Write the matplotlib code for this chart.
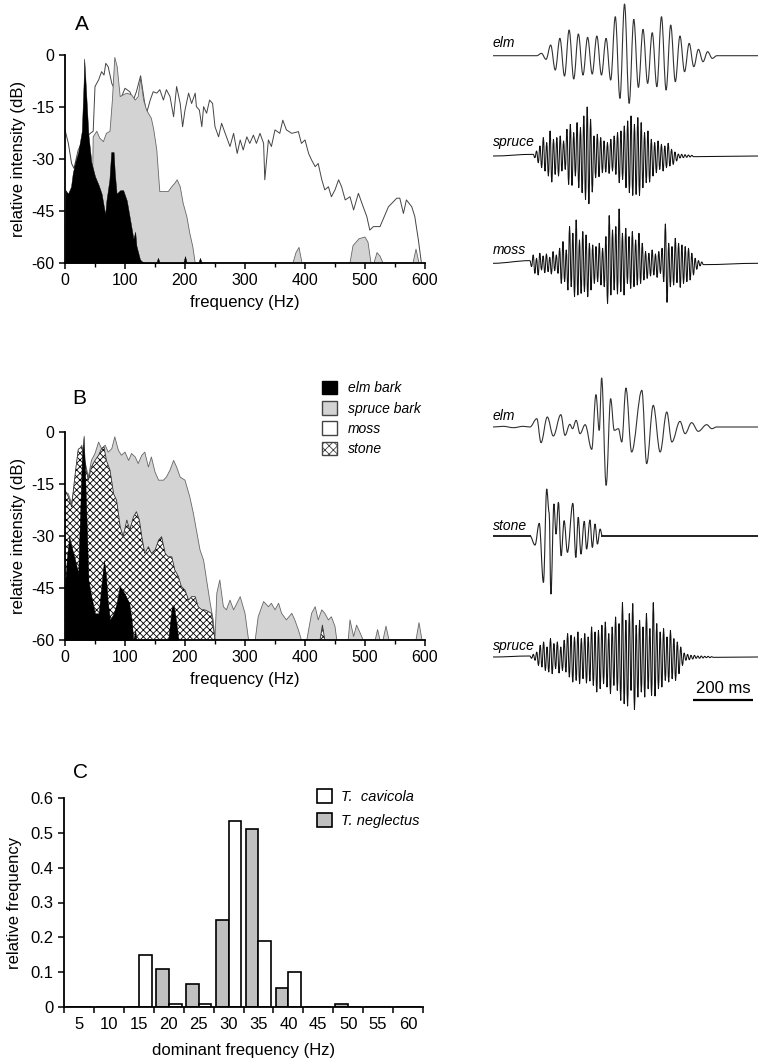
import numpy as np
import matplotlib.pyplot as plt
from matplotlib.patches import Patch, PathPatch
from matplotlib.path import Path

plt.rcParams['font.family'] = ['Liberation Sans', 'DejaVu Sans']
plt.rcParams['axes.unicode_minus'] = False
plt.rcParams['hatch.linewidth'] = 0.6

# ---------------- panel A spectra (Hz, dB) ----------------
A_elm_hz = [0, 1, 5, 10, 13, 17, 22, 28, 31, 32, 34, 39, 44, 50, 56, 61, 67, 69, 74, 77,
            81, 83, 86, 92, 97, 103, 108, 114, 117, 119, 125, 131, 152, 155, 158, 197, 200,
            203, 222, 225, 228]
A_elm_db = [-60, -39, -40, -38, -34, -31, -28, -22, -8, -1, -7, -23, -31, -35, -37.5, -40,
            -46, -42, -36, -28, -28, -34, -40, -39, -39, -42, -47, -53, -51, -55, -59, -60,
            -60, -58.5, -60, -60, -58, -60, -60, -58.5, -60]

A_spruce_hz = [44, 47, 53, 58, 64, 69, 75, 79, 83, 87, 92, 97, 103, 111, 117, 122, 126, 131,
               136, 144, 148, 153, 158, 167, 172, 178, 183, 187, 192, 197, 203, 208, 213, 217,
               380, 385, 390, 395, 475, 480, 490, 500, 505, 510, 515, 520, 525, 530, 580, 585, 590]
A_spruce_db = [-60, -23.6, -22, -24, -25, -22.6, -22, -13, -0.7, -3.4, -12, -11.5, -11, -11.5,
               -13, -12, -6.7, -13, -15.9, -18.3, -21.6, -27.4, -39.4, -39.4, -39.4, -38, -37,
               -36, -38, -42.8, -46.6, -51.4, -55.3, -60, -60, -57, -55.5, -60, -60, -55, -53,
               -52.5, -54, -60, -60, -57, -58, -60, -60, -56, -60]

A_moss_hz = [0, 5.6, 11, 15, 22, 31, 42, 47, 50, 56, 61, 65, 68, 72, 78, 83, 92, 100, 108, 114,
             119, 126, 132, 136, 142, 147, 153, 158, 164, 169, 175, 181, 186, 192, 196, 200,
             206, 211, 217, 219, 224, 228, 231, 236, 241, 246, 250, 256, 261, 267, 275, 281,
             287, 292, 297, 303, 308, 314, 319, 325, 331, 333, 339, 344, 350, 358, 363, 369,
             378, 389, 394, 400, 406, 411, 417, 422, 428, 433, 439, 444, 450, 456, 461, 467,
             475, 481, 489, 497, 503, 508, 514, 525, 539, 553, 558, 564, 569, 578, 583, 589, 594]
A_moss_db = [-21.6, -25.5, -31.3, -32.7, -27.4, -24.5, -22.6, -22, -9.1, -7.2, -4.8, -5.8, -2.4,
             -3.4, -8.2, -10, -13, -9.6, -10.6, -13, -10.6, -6, -13, -16.8, -13, -10.6, -11, -10,
             -13, -10, -12, -17.8, -9.1, -14, -20.7, -15.9, -11, -14, -11, -14.9, -15.9, -20.7,
             -14.9, -16.8, -13, -14, -20.7, -23.6, -19.7, -22.6, -26.4, -22.6, -28.4, -24.5,
             -27.4, -23.6, -25.5, -23.1, -25.5, -22.6, -25.5, -36, -24.5, -26.4, -21.6, -22.6,
             -18.8, -21.6, -22.6, -22.1, -25.5, -24.5, -28.4, -30.3, -32.2, -31.3, -36, -38.9,
             -38, -40.9, -38.9, -36, -38, -41.8, -40.9, -44.7, -39.9, -43.8, -46.6, -50.5, -49.5,
             -49.5, -43.8, -41.3, -41.3, -45.7, -41.8, -43.8, -46.6, -53.4, -60]

# ---------------- panel B spectra ----------------
B_elm_hz = [0, 0.5, 2.8, 7, 11, 17, 22, 28, 31, 33, 39, 44, 50, 56, 61, 65, 68, 71, 75, 81,
            86, 91, 96, 102, 107, 111, 114, 117, 119, 172, 178, 181, 185, 189]
B_elm_db = [-60, -43, -37, -30.2, -33.1, -37, -40.8, -8.2, -1, -9.1, -42.7, -47.5, -52.3,
            -52.3, -43.7, -37, -40.8, -48.5, -54.2, -52.3, -49.4, -44.6, -45.6, -47.5, -49.4,
            -54.2, -60, -57.1, -60, -60, -50.4, -49.9, -54.2, -60]

B_spruce_hz = [0, 5.6, 11, 17, 22, 28, 33, 39, 44, 50, 56, 61, 67, 72, 78, 83, 89, 94, 100,
               106, 111, 117, 122, 128, 133, 139, 144, 150, 156, 164, 169, 175, 181, 186, 192,
               200, 208, 214, 219, 225, 231, 236, 242, 247, 250, 253, 258, 264, 269, 275, 281,
               292, 300, 306, 317, 322, 331, 339, 344, 350, 356, 361, 369, 378, 383, 389, 394,
               403, 411, 417, 422, 428, 433, 439, 444, 450, 453, 472, 475, 481, 486, 492, 497,
               517, 521, 525, 530, 535, 540, 585, 590, 595]
B_spruce_db = [-17.3, -17.8, -20.6, -13.9, -5.8, -3.8, -8.2, -13, -8.2, -6.2, -2.9, -4.8, -3.8,
               -5.8, -4.8, -1.4, -5.3, -6.7, -5.8, -8.2, -6.2, -7.2, -9.1, -6.7, -5.8, -10.1,
               -7.2, -11.5, -13.9, -13.9, -13, -11, -8.2, -10.1, -13, -13.9, -18.7, -23.5,
               -28.3, -34, -37, -42.7, -49.4, -54.2, -60, -46.5, -42.7, -50.4, -51.3, -48.5,
               -51.3, -47.5, -52.3, -60, -60, -53.3, -48.9, -50.4, -49.4, -51.3, -49.4, -52.3,
               -54.2, -52.3, -54.2, -57.1, -60, -60, -52.3, -50.4, -54.2, -51.3, -52.3, -54.2,
               -53.3, -56.1, -60, -60, -54.2, -59, -55.7, -58, -60, -60, -57, -60, -60, -56,
               -60, -60, -55, -60]

B_stone_hz = [0, 5.6, 11, 17, 22, 28, 33, 39, 44, 50, 56, 61, 65, 69, 75, 81, 86, 92, 97, 103,
              108, 114, 119, 124, 128, 133, 139, 144, 150, 156, 161, 167, 172, 178, 183, 189,
              194, 200, 206, 211, 217, 222, 228, 233, 239, 244, 250, 425, 429, 433]
B_stone_db = [-16.8, -18.7, -21.6, -12, -5, -4.3, -9.1, -13.9, -10.1, -8.2, -6.7, -4.8, -4.3,
              -8.2, -11, -17.8, -19.7, -27.4, -30.2, -25.4, -28.3, -24.5, -23, -25.4, -30.2,
              -35, -33.1, -35, -34.1, -31.2, -30.2, -35, -36, -36, -39.8, -41.7, -44.6, -45.6,
              -48.5, -47.5, -47.5, -50.4, -51.3, -51.3, -51.8, -52.3, -60, -60, -55.7, -60]

# ---------------- panel C histogram ----------------
bins_hz = [5, 10, 15, 20, 25, 30, 35, 40, 45, 50, 55, 60]
cavicola = [0, 0, 0.15, 0.01, 0.01, 0.535, 0.19, 0.10, 0, 0, 0, 0]
neglectus = [0, 0, 0, 0.11, 0.065, 0.25, 0.51, 0.055, 0, 0.008, 0, 0]

# ---------------- oscillograms (extrema amplitudes, arbitrary units) ----------------
A_elm_wave = [0, 7, -11, 32, -43, 52, -61, 77, -70, 65, -58, 55, -55, 59, -58, 52, -73, 117,
              -128, 155, -143, 109, -95, 79, -83, 69, -93, 117, -103, 92, -78, 59, -48, 37,
              -33, 19, -18, 12, -8, 0]
A_spruce_wave = [5, -5, 15, -20, 30, -35, 55, -45, 40, -60, 75, -78, 50, -55, 55, -60, 60, -45,
                 45, -40, 80, -85, 95, -88, 70, -60, 100, -95, 85, -110, 120, -130, 147, -143,
                 110, -108, 60, -65, 65, -62, 55, -50, 45, -48, 40, -52, 50, -45, 60, -55, 70,
                 -80, 75, -70, 90, -95, 105, -110, 120, -118, 95, -115, 115, -118, 100, -95,
                 70, -80, 75, -78, 50, -60, 40, -50, 45, -40, 35, -45, 30, -35, 38, -30, 20,
                 -25, 12, -15, 6, -6, 5, -5, 4, -4, 3, -3, 2, -2]
A_moss_wave = [8, -10, 25, -30, 15, -35, 30, -20, 22, -28, 28, -25, 18, -32, 35, -22, 25, -30,
               45, -60, 65, -55, 40, -80, 110, -70, 90, -100, 130, -95, 70, -90, 95, -85, 85,
               -100, 60, -80, 55, -60, 50, -55, 60, -65, 45, -70, 80, -120, 143, -95, 100, -80,
               110, -92, 163, -85, 90, -95, 105, -60, 80, -75, 95, -70, 70, -65, 90, -60, 60,
               -50, 35, -45, 30, -38, 40, -35, 28, -42, 35, -30, 45, -55, 118, -117, 60, -70,
               50, -65, 75, -58, 60, -72, 55, -60, 50, -55, 45, -50, 30, -35, 15, -18, 8, -8,
               4, -4]
B_spruce_wave = [3, -4, 8, -10, 15, -25, 35, -30, 45, -40, 30, -45, 55, -50, 40, -35, 45, -48,
                 30, -40, 50, -45, 70, -60, 65, -75, 60, -70, 75, -80, 55, -65, 70, -78, 60,
                 -72, 90, -85, 75, -105, 80, -95, 95, -80, 105, -90, 70, -110, 90, -85, 120,
                 -100, 100, -130, 163, -140, 110, -147, 130, -100, 160, -157, 95, -120, 110,
                 -105, 90, -120, 130, -95, 85, -115, 163, -117, 100, -95, 75, -90, 85, -70, 60,
                 -75, 80, -65, 55, -70, 45, -50, 30, -25, 12, -10, 8, -8, 5, -6, 5, -4, 3, -4,
                 3, -3, 2, -2, 2, -2, 1, -1]
B_elm_ms = [0, 34, 68, 101, 123, 146, 160, 181, 201, 226, 240, 256, 265, 277, 290, 307, 329,
            343, 354, 362, 377, 392, 404, 418, 429, 443, 462, 496, 512, 534, 557, 579, 596, 623,
            640, 662, 684, 712, 729, 745, 883]
B_elm_wave = [0, 2, -2, 2, 0, 25, -47, 30, -27, 37, -25, 8, -5, 20, -20, 7, -67, 97, -10, 147,
              -175, 85, -10, -5, -45, 117, -75, 110, -110, 65, -75, 45, -45, 17, -20, 13, -13,
              7, -5, 0, 0]
B_stone_ms = [123, 140, 154, 168, 179, 187, 193, 203, 210, 218, 227, 237, 248, 266, 276,
              284, 293, 304, 312, 323, 331, 340, 348, 357, 364]
B_stone_wave = [0, -28, 37, -140, 140, 70, -175, 95, 5, 100, -60, 45, -50, 97, -65, 55, -55,
                43, -40, 47, -35, 35, -25, 20, 0]

fig = plt.figure(figsize=(7.63, 10.62), dpi=100)
W, H = 763.0, 1062.0


def px_axes(x0, y0, x1, y1):
    return fig.add_axes([x0 / W, 1 - y1 / H, (x1 - x0) / W, (y1 - y0) / H])


def style_spectrum(ax):
    ax.set_xlim(0, 600)
    ax.set_ylim(-60, 0)
    for s in ['top', 'right']:
        ax.spines[s].set_visible(False)
    ax.spines['left'].set_linewidth(1.3)
    ax.spines['bottom'].set_linewidth(1.3)
    ax.set_xticks(range(0, 601, 100))
    ax.set_xticks(range(50, 600, 100), minor=True)
    ax.set_yticks([0, -15, -30, -45, -60])
    ax.tick_params(which='major', direction='out', length=4, width=1.1, labelsize=11.5)
    ax.tick_params(which='minor', direction='out', length=3, width=1.0)
    ax.set_xlabel('frequency (Hz)', fontsize=12, labelpad=5)
    ax.set_ylabel('relative intensity (dB)', fontsize=12, labelpad=4)


# ---- A spectra
axA = px_axes(65, 55, 425, 263)
axA.fill_between(A_moss_hz, A_moss_db, -60, color='white', zorder=1)
axA.plot(A_moss_hz, A_moss_db, color='#444444', lw=0.7, zorder=1.5)
axA.fill_between(A_spruce_hz, A_spruce_db, -60, facecolor='#d3d3d3', edgecolor='none', zorder=2)
axA.plot(A_spruce_hz, A_spruce_db, color='#666666', lw=0.6, zorder=2.1)
axA.fill_between(A_elm_hz, A_elm_db, -60, facecolor='black', edgecolor='black', lw=0.3, zorder=3)
style_spectrum(axA)

# ---- B spectra
axB = px_axes(65, 432, 425, 640)
axB.fill_between(B_spruce_hz, B_spruce_db, -60, facecolor='#d3d3d3', edgecolor='none', zorder=1)
axB.plot(B_spruce_hz, B_spruce_db, color='#666666', lw=0.6, zorder=1.1)
axB.fill_between(B_stone_hz, B_stone_db, -60, facecolor='white', edgecolor='black',
                 hatch='xxxxx', lw=0, zorder=2)
axB.plot(B_stone_hz, B_stone_db, color='#333333', lw=0.6, zorder=2.1)
axB.fill_between(B_elm_hz, B_elm_db, -60, facecolor='black', edgecolor='black', lw=0.3, zorder=3)
style_spectrum(axB)

legB = [Patch(facecolor='black', edgecolor='black'),
        Patch(facecolor='#d3d3d3', edgecolor='#444444'),
        Patch(facecolor='white', edgecolor='#444444'),
        Patch(facecolor='white', edgecolor='#444444', hatch='xxxx')]
fig.legend(legB, ['elm bark', 'spruce bark', 'moss', 'stone'], loc='upper left',
           bbox_to_anchor=(322 / W, 1 - 381 / H), frameon=False, borderpad=0,
           borderaxespad=0, handlelength=1.1, handleheight=1.1, handletextpad=0.75,
           labelspacing=0.42, prop={'size': 10, 'style': 'italic'})

# ---- C histogram
axC = px_axes(64, 798, 423, 1007)
idx = np.arange(len(bins_hz))
axC.bar(idx - 0.215, neglectus, width=0.43, facecolor='#c0c0c0', edgecolor='black', lw=1.2)
axC.bar(idx + 0.215, cavicola, width=0.43, facecolor='white', edgecolor='black', lw=1.2)
axC.set_xlim(-0.5, len(bins_hz) - 0.5)
axC.set_ylim(0, 0.6)
for s in ['top', 'right']:
    axC.spines[s].set_visible(False)
axC.spines['left'].set_linewidth(1.3)
axC.spines['bottom'].set_linewidth(1.3)
axC.set_yticks(np.arange(0, 0.61, 0.1))
axC.set_yticklabels(['0', '0.1', '0.2', '0.3', '0.4', '0.5', '0.6'])
axC.set_xticks(np.arange(-0.5, len(bins_hz), 1.0))
axC.set_xticklabels([])
axC.set_xticks(idx, minor=True)
axC.set_xticklabels([str(b) for b in bins_hz], minor=True)
axC.tick_params(which='major', direction='out', length=4, width=1.1, labelsize=12)
axC.tick_params(which='minor', length=0, labelsize=12, pad=7)
axC.set_xlabel('dominant frequency (Hz)', fontsize=12, labelpad=8)
axC.set_ylabel('relative frequency', fontsize=12, labelpad=6)
legC = [Patch(facecolor='white', edgecolor='black', lw=1.2),
        Patch(facecolor='#c0c0c0', edgecolor='black', lw=1.2)]
fig.legend(legC, ['T.  cavicola', 'T. neglectus'], loc='upper left',
           bbox_to_anchor=(317 / W, 1 - 789 / H), frameon=False, borderpad=0,
           borderaxespad=0, handlelength=1.05, handleheight=1.05, handletextpad=0.6,
           labelspacing=0.65, prop={'size': 10.5, 'style': 'italic'})

# ---- panel letters
fig.text(82 / W, 1 - 25 / H, 'A', fontsize=15, ha='center', va='center')
fig.text(79 / W, 1 - 399 / H, 'B', fontsize=15, ha='center', va='center')
fig.text(80 / W, 1 - 773 / H, 'C', fontsize=15, ha='center', va='center')

# ---- oscillograms (x in ms, y in image pixels)
T_END = 883


def smooth_trace(ax, t, y, lw, color):
    # curve through successive extrema with flat tangents at each extremum
    verts = [(t[0], y[0])]
    codes = [Path.MOVETO]
    for i in range(len(t) - 1):
        d = (t[i + 1] - t[i]) * 0.36
        verts += [(t[i] + d, y[i]), (t[i + 1] - d, y[i + 1]), (t[i + 1], y[i + 1])]
        codes += [Path.CURVE4] * 3
    ax.add_patch(PathPatch(Path(verts, codes), facecolor='none', edgecolor=color, lw=lw,
                           capstyle='butt', joinstyle='round'))


def uniform_trace(ax, amp, t0, t1, base, lw=0.7, color='#222222'):
    t = np.concatenate([[0], np.linspace(t0, t1, len(amp)), [T_END]])
    a = np.concatenate([[0], amp, [0]])
    smooth_trace(ax, t, base - a / 3.0, lw, color)


axWA = px_axes(493, 0, 758, 305)
axWA.set_xlim(0, T_END)
axWA.set_ylim(305, 0)
axWA.axis('off')
uniform_trace(axWA, A_elm_wave, 146, 746, 55.7, lw=0.8, color='#333333')
uniform_trace(axWA, A_spruce_wave, 134, 668, 156, lw=0.75, color='#111111')
uniform_trace(axWA, A_moss_wave, 123, 701, 263.3, lw=0.75, color='#111111')
axWA.text(0, 47, 'elm', fontsize=10, style='italic', va='baseline')
axWA.text(0, 146, 'spruce', fontsize=10, style='italic', va='baseline')
axWA.text(0, 254, 'moss', fontsize=10, style='italic', va='baseline')

axWB = px_axes(493, 370, 758, 712)
axWB.set_xlim(0, T_END)
axWB.set_ylim(712, 370)
axWB.axis('off')
smooth_trace(axWB, B_elm_ms, 427 - np.array(B_elm_wave) / 3.0, 0.8, '#333333')
smooth_trace(axWB, B_stone_ms, 535.7 - np.array(B_stone_wave) / 3.0, 0.8, '#222222')
axWB.plot([0, B_stone_ms[0]], [535.7, 535.7], color='#222222', lw=1.4)
axWB.plot([B_stone_ms[-1], T_END], [535.7, 535.7], color='#222222', lw=1.4)
uniform_trace(axWB, B_spruce_wave, 123, 734, 657, lw=0.75, color='#111111')
axWB.text(0, 420, 'elm', fontsize=10, style='italic', va='baseline')
axWB.text(0, 530, 'stone', fontsize=10, style='italic', va='baseline')
axWB.text(0, 650, 'spruce', fontsize=10, style='italic', va='baseline')
axWB.plot([667, 867], [700, 700], color='black', lw=1.6, solid_capstyle='butt')
axWB.text(767, 693, '200 ms', fontsize=12, ha='center', va='baseline')

fig.savefig('out.png', dpi=100)
